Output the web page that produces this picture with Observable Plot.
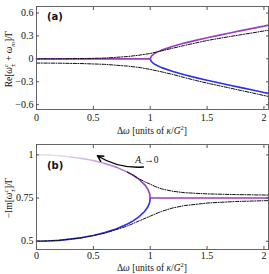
<!DOCTYPE html>
<html><head><meta charset="utf-8">
<script src="https://cdn.jsdelivr.net/npm/d3@7"></script>
<script src="https://cdn.jsdelivr.net/npm/@observablehq/plot@0.6"></script>
<style>body{margin:0;background:#fff} #chart{width:269px} svg{display:block}</style>
</head><body><div id="chart"></div>
<script>
// ---------- shared ----------
const xTicks = [0, 0.5, 1, 1.5, 2];
const aTicks = [-0.6, -0.3, 0, 0.3, 0.6];
const bTicks = [0.5, 0.75, 1];

// ---------- panel (a): Re part ----------
const aFlatX = [0, 1];
const aFlatY = [0, 0];
const aSplitX = [1, 1.01, 1.03, 1.06, 1.1, 1.2, 1.3, 1.4, 1.5, 1.6, 1.7, 1.8, 1.9, 2.0, 2.04];
const aUpper = [0, 0.035, 0.062, 0.088, 0.114, 0.165, 0.206, 0.242, 0.275, 0.307, 0.339, 0.369, 0.399, 0.428, 0.441];
const aLower = [0, -0.035, -0.062, -0.088, -0.115, -0.167, -0.209, -0.246, -0.28, -0.313, -0.345, -0.377, -0.408, -0.44, -0.452];
const aDashX = [0, 0.2, 0.4, 0.6, 0.8, 0.9, 1.0, 1.1, 1.2, 1.3, 1.4, 1.5, 1.6, 1.7, 1.8, 1.9, 2.0, 2.04];
const aDashUpper = [0, 0, 0.003, 0.01, 0.03, 0.047, 0.07, 0.105, 0.14, 0.175, 0.208, 0.24, 0.266, 0.292, 0.316, 0.34, 0.365, 0.375];
const aDashLower = [-0.055, -0.057, -0.062, -0.072, -0.095, -0.112, -0.138, -0.17, -0.205, -0.245, -0.283, -0.318, -0.35, -0.382, -0.415, -0.447, -0.48, -0.492];

// ---------- panel (b): -Im part ----------
const bBranchX = [0, 0.1, 0.2, 0.3, 0.4, 0.5, 0.6, 0.7, 0.8, 0.85, 0.9, 0.95, 0.98, 0.995, 1.0];
const bUpper = [1.0, 0.999, 0.995, 0.988, 0.979, 0.967, 0.95, 0.929, 0.9, 0.882, 0.859, 0.828, 0.8, 0.775, 0.75];
const bLower = [0.5, 0.501, 0.505, 0.512, 0.521, 0.533, 0.55, 0.571, 0.6, 0.618, 0.641, 0.672, 0.7, 0.725, 0.75];
const bFlatX = [1, 2.04];
const bFlatY = [0.75, 0.75];
const bDashUpperX = [0.8, 0.85, 0.9, 0.95, 1.0, 1.05, 1.1, 1.2, 1.3, 1.5, 1.75, 2.04];
const bDashUpper = [0.9, 0.882, 0.862, 0.845, 0.83, 0.815, 0.803, 0.789, 0.781, 0.774, 0.77, 0.767];
const bDashLowerX = [0, 0.2, 0.4, 0.6, 0.8, 0.9, 1.0, 1.1, 1.2, 1.3, 1.5, 1.75, 2.04];
const bDashLower = [0.5, 0.505, 0.52, 0.546, 0.588, 0.617, 0.645, 0.673, 0.693, 0.706, 0.721, 0.73, 0.735];
// annotation arrow (from tail to head) and its label
const arrowFrom = [0.94, 0.93];
const arrowTo = [0.535, 0.995];
const arrowLabelAt = [0.975, 0.967];

// ---------- helpers ----------
const rows = (xs, ys) => xs.map((x, i) => ({x, y: ys[i]}));
const PURPLE = "#9a3cc2", BLUE = "#2b2ff5", DASH = "#111";
const SERIF = "'Liberation Serif', 'DejaVu Serif', serif";
const fmt = d => d < 0 ? "\u2212" + Math.abs(d) : String(d);
const dashLine = data => Plot.line(data, {x: "x", y: "y", stroke: DASH, strokeWidth: 1, strokeDasharray: "3.5,1.4,1,1.4"});

function panel({yDomain, yTicks, marginTop, marginBottom, tickPad, marks}) {
  return Plot.plot({
    width: 269, height: 137,
    marginLeft: 36, marginRight: 1, marginTop, marginBottom,
    style: {fontFamily: SERIF, fontSize: "10px", background: "white", color: "#111"},
    x: {domain: [0, 2.04]},
    y: {domain: yDomain},
    marks: [
      ...marks,
      Plot.frame({stroke: "#555", strokeWidth: 0.9}),
      Plot.axisX(xTicks, {tickSize: 0, tickPadding: tickPad, tickFormat: fmt, label: null}),
      Plot.axisX(xTicks, {tickSize: -3, fill: "none", label: null, stroke: "#555"}),
      Plot.axisX(xTicks, {anchor: "top", tickSize: -3, fill: "none", label: null, stroke: "#555"}),
      Plot.axisY(yTicks, {tickSize: 0, tickPadding: 3, tickFormat: fmt, label: null}),
      Plot.axisY(yTicks, {tickSize: -3, fill: "none", label: null, stroke: "#555"}),
      Plot.axisY(yTicks, {anchor: "right", tickSize: -3, fill: "none", label: null, stroke: "#555"})
    ]
  });
}

function rich(svg, x, y, parts, {rotate = false, size = 10} = {}) {
  const t = d3.select(svg).append("text")
    .attr("transform", `translate(${x},${y})` + (rotate ? " rotate(-90)" : ""))
    .attr("text-anchor", "middle")
    .attr("font-family", SERIF)
    .attr("font-size", size)
    .attr("fill", "#111");
  for (const p of parts) {
    const s = t.append("tspan").text(p.t);
    if (p.i) s.attr("font-style", "italic");
    if (p.s) s.attr("font-size", p.s);
    if (p.dy) s.attr("dy", p.dy);
    if (p.dx) s.attr("dx", p.dx);
  }
  return t;
}

const xTitle = [{t: "\u0394"}, {t: "\u03c9", i: 1}, {t: " [units of "}, {t: "\u03ba", i: 1}, {t: "/"}, {t: "G", i: 1}, {t: "2", s: 6.5, dy: -4}, {t: "]", dy: 4}];

// ---------- panel (a) ----------
const A = panel({
  yDomain: [-0.663, 0.685], yTicks: aTicks, marginTop: 6, marginBottom: 28, tickPad: 4.5,
  marks: [
    Plot.line(rows(aSplitX, aLower), {x: "x", y: "y", stroke: BLUE, strokeWidth: 1.6}),
    Plot.line(rows(aFlatX, aFlatY), {x: "x", y: "y", stroke: PURPLE, strokeWidth: 1.6}),
    Plot.line(rows(aSplitX, aUpper), {x: "x", y: "y", stroke: PURPLE, strokeWidth: 1.6}),
    dashLine(rows(aDashX, aDashUpper)),
    dashLine(rows(aDashX, aDashLower)),
    Plot.text(["(a)"], {frameAnchor: "top-left", dx: 10.5, dy: 6.5, fontWeight: "bold", fontFamily: "'DejaVu Sans', sans-serif", fontSize: 10})
  ]
});
rich(A, 152, 134, xTitle, {size: 9.5});
rich(A, 12, 59, [{t: "Re["}, {t: "\u03c9", i: 1}, {t: "c", i: 1, s: 6.5, dy: -4}, {t: "\u00b1", s: 6.5, dy: 7, dx: -3}, {t: " + ", dy: -3}, {t: "\u03c9", i: 1}, {t: "m", i: 1, s: 6.5, dy: 2.5}, {t: "]/\u0393", dy: -2.5}], {rotate: true, size: 9.5});

// ---------- panel (b) ----------
const upperColor = x => d3.interpolateRgb("#e6e3ea", PURPLE)(Math.pow(Math.min(1, x / 0.85), 1.8));
const B = panel({
  yDomain: [0.452, 1.06], yTicks: bTicks, marginTop: 7, marginBottom: 25, tickPad: 2.5,
  marks: [
    Plot.line(rows(bBranchX, bLower), {x: "x", y: "y", stroke: BLUE, strokeWidth: 1.6}),
    Plot.line(rows(bFlatX, bFlatY), {x: "x", y: "y", stroke: PURPLE, strokeWidth: 1.6}),
    Plot.line(rows(bBranchX, bUpper), {x: "x", y: "y", z: null, stroke: d => upperColor(d.x), strokeWidth: 1.6}),
    dashLine(rows(bDashUpperX, bDashUpper)),
    dashLine(rows(bDashLowerX, bDashLower)),
    Plot.arrow([{x1: arrowFrom[0], y1: arrowFrom[1], x2: arrowTo[0], y2: arrowTo[1]}],
      {x1: "x1", y1: "y1", x2: "x2", y2: "y2", bend: 18, stroke: "#000", strokeWidth: 1.4, headLength: 7, headAngle: 55}),
    Plot.text(["(b)"], {frameAnchor: "top-left", dx: 10.5, dy: 17, fontWeight: "bold", fontFamily: "'DejaVu Sans', sans-serif", fontSize: 10})
  ]
});
rich(B, 152, 134, xTitle, {size: 9.5});
rich(B, 12, 61, [{t: "\u2212Im["}, {t: "\u03c9", i: 1}, {t: "c", i: 1, s: 6.5, dy: -4}, {t: "\u00b1", s: 6.5, dy: 7, dx: -3}, {t: "]/\u0393", dy: -3}], {rotate: true, size: 9.5});
{
  const sx = B.scale("x"), sy = B.scale("y");
  rich(B, sx.apply(arrowLabelAt[0]), sy.apply(arrowLabelAt[1]) + 3, [{t: "A", i: 1}, {t: "\u2212", s: 6.5, dy: 2.5, dx: -0.5}, {t: "\u2192", dy: -2.5}, {t: "0"}], {size: 9.5});
}

document.getElementById("chart").append(A, B);
</script>
</body></html>
